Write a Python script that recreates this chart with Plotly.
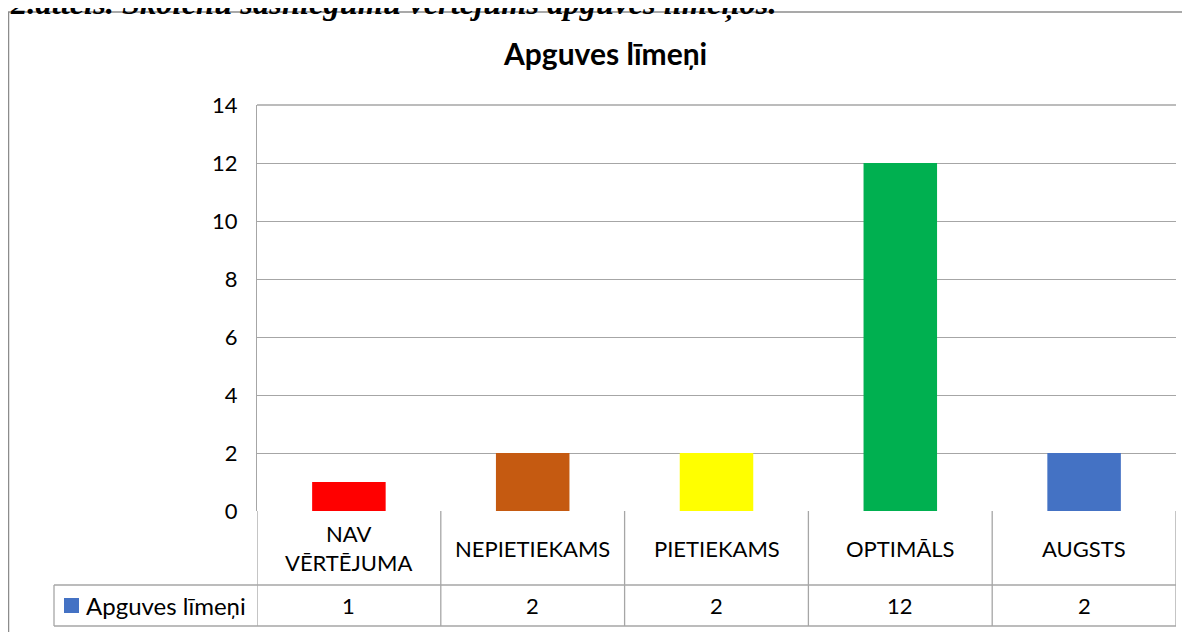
import plotly.graph_objs as go

# chart data
categories = ['NAV<br>VĒRTĒJUMA', 'NEPIETIEKAMS', 'PIETIEKAMS', 'OPTIMĀLS', 'AUGSTS']
values = [1, 2, 2, 12, 2]
bar_colors = ['#FF0000', '#C55A11', '#FFFF00', '#00B050', '#4472C4']
series_name = 'Apguves līmeņi'
caption = '2.attēls. Skolēnu sasniegumu vērtējums apguves līmeņos.'

# the page body adds an 8px margin, so the figure is drawn 8px smaller
OFF = 8
W, H = 1190 - OFF, 632 - OFF
L, R, T, B = 257 - OFF, 14, 105 - OFF, 121
pw, ph = W - L - R, H - T - B
grid = '#A6A6A6'
font = 'Lato, Calibri, sans-serif'
fs = 22

xs = list(range(len(categories)))

fig = go.Figure()
fig.add_trace(go.Bar(
    x=xs, y=values,
    marker=dict(color=bar_colors, line=dict(width=0)),
    width=0.4,
    name=series_name,
    showlegend=False,
))

shapes = []
annotations = []

# data table below the plot: category row and values row
row1, row2 = -74, -115
for i in range(len(categories) + 1):
    shapes.append(dict(type='line', xref='x', yref='paper', ysizemode='pixel', yanchor=0,
                       x0=i - 0.5, x1=i - 0.5, y0=0, y1=row2,
                       line=dict(color=grid, width=1.3)))
# legend cell
shapes.append(dict(type='line', xref='paper', xsizemode='pixel', xanchor=0,
                   yref='paper', ysizemode='pixel', yanchor=0,
                   x0=-203, x1=-203, y0=row1, y1=row2, line=dict(color=grid, width=1.3)))
for yy in (row1, row2):
    shapes.append(dict(type='line', xref='paper', xsizemode='pixel', xanchor=0,
                       yref='paper', ysizemode='pixel', yanchor=0,
                       x0=-203, x1=pw, y0=yy, y1=yy, line=dict(color=grid, width=1.3)))
# legend key square
mid2 = (row1 + row2) / 2
shapes.append(dict(type='rect', xref='paper', xsizemode='pixel', xanchor=0,
                   yref='paper', ysizemode='pixel', yanchor=0,
                   x0=-193, x1=-178, y0=mid2 - 7.5, y1=mid2 + 7.5,
                   fillcolor=bar_colors[-1], line=dict(width=0)))

for x, c, v in zip(xs, categories, values):
    annotations.append(dict(x=x, y=0, xref='x', yref='paper', yshift=row1 / 2,
                            text=c, showarrow=False, yanchor='middle',
                            font=dict(size=fs, color='black', family=font)))
    annotations.append(dict(x=x, y=0, xref='x', yref='paper', yshift=mid2,
                            text=str(v), showarrow=False, yanchor='middle',
                            font=dict(size=fs, color='black', family=font)))

annotations.append(dict(x=0, y=0, xref='paper', yref='paper', xshift=-173, yshift=mid2,
                        text=series_name, showarrow=False, xanchor='left', yanchor='middle',
                        font=dict(size=24, color='black', family=font)))

# chart title
annotations.append(dict(x=(605 - 257) / pw, y=1, xref='paper', yref='paper', yshift=105 - 53,
                        text='<b>Apguves līmeņi</b>', showarrow=False,
                        xanchor='center', yanchor='middle',
                        font=dict(size=30, color='black', family=font)))

# figure caption (cut at top edge)
annotations.append(dict(x=-L / pw, y=1, xref='paper', yref='paper', yshift=105 - 24,
                        text='<b><i>' + caption + '</i></b>', showarrow=False,
                        xanchor='left', yanchor='bottom',
                        font=dict(size=32.5, color='black', family='Liberation Serif')))

# outer chart frame
shapes.append(dict(type='line', xref='paper', xsizemode='pixel', xanchor=0,
                   yref='paper', ysizemode='pixel', yanchor=1,
                   x0=-L, x1=W, y0=T - 4, y1=T - 4, line=dict(color='#8C8C8C', width=1.5)))
shapes.append(dict(type='line', xref='paper', xsizemode='pixel', xanchor=0,
                   yref='paper', ysizemode='pixel', yanchor=1,
                   x0=-L + 0.5, x1=-L + 0.5, y0=T - 4, y1=-H, line=dict(color='#8C8C8C', width=1.5)))
# top border of plot area
shapes.append(dict(type='line', xref='paper', yref='paper', x0=0, x1=1, y0=1, y1=1,
                   line=dict(color=grid, width=1.3)))

fig.update_xaxes(range=[-0.5, len(categories) - 0.5], showticklabels=False, showgrid=False,
                 zeroline=False, showline=False, ticks='')
fig.update_yaxes(range=[0, 14], dtick=2, showgrid=True, gridcolor=grid, gridwidth=1.3,
                 zeroline=False, showline=True, linecolor=grid, linewidth=1.3,
                 ticks='', ticklabelstandoff=14,
                 tickfont=dict(size=fs, color='black', family=font))
fig.update_layout(
    width=W, height=H,
    margin=dict(l=L, r=R, t=T, b=B, pad=0),
    paper_bgcolor='white',
    plot_bgcolor='white',
    shapes=shapes,
    annotations=annotations,
)

fig.write_html("out.html")
